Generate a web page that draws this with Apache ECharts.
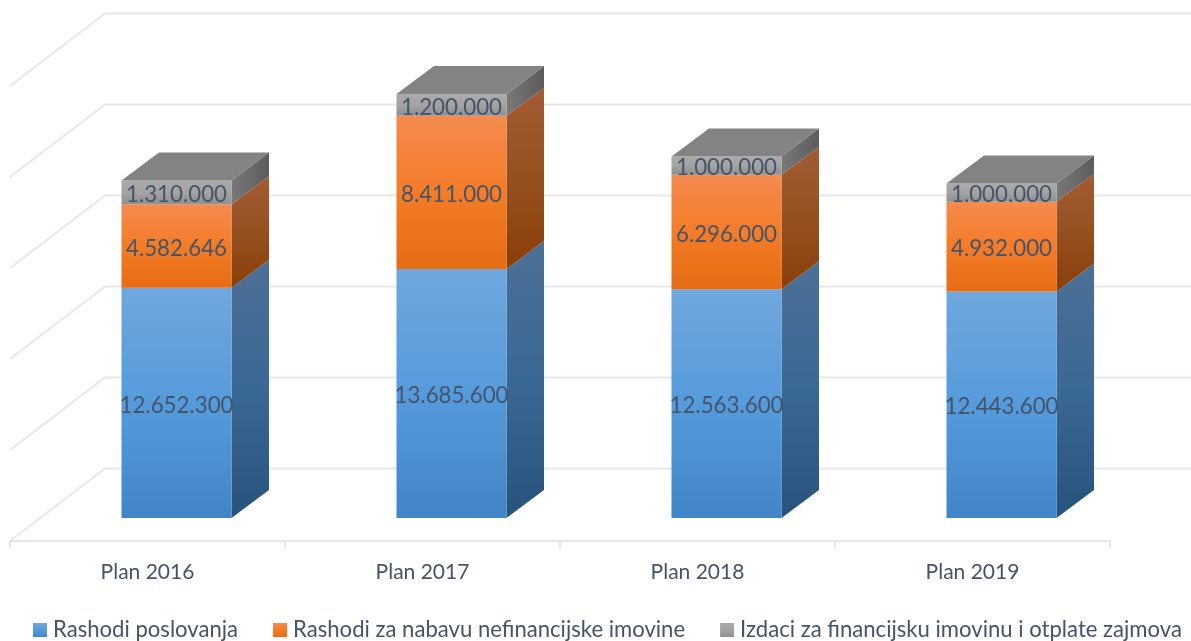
<!DOCTYPE html>
<html><head><meta charset="utf-8">
<style>html,body{margin:0;padding:0;background:#fff}#c{width:1191px;height:641px}</style>
<script src="https://cdn.jsdelivr.net/npm/echarts@6/dist/echarts.min.js"></script>
</head><body><div id="c"></div>
<script>
const categories = ['Plan 2016','Plan 2017','Plan 2018','Plan 2019'];
const rashodiPoslovanja = [12652300,13685600,12563600,12443600];
const rashodiNefinancijske = [4582646,8411000,6296000,4932000];
const izdaciFinancijske = [1310000,1200000,1000000,1000000];
const wallTicks = [0,5000000,10000000,15000000,20000000,25000000];
const seriesNames = ['Rashodi poslovanja','Rashodi za nabavu nefinancijske imovine','Izdaci za financijsku imovinu i otplate zajmova'];

const TXT='#44546A', FONT='Lato', GRIDC='#e4e8ee';
const DX=37.5, DY=28, SHIFT=29, WALL_DX=95, WALL_BACK=49.5, WALL_FRONT=23;
const lin=(x1,y1,x2,y2,stops)=>new echarts.graphic.LinearGradient(x1,y1,x2,y2,stops.map((c,i)=>({offset:stops.length>1?i/(stops.length-1):0,color:c})));
const fronts=[
  lin(0,0,0,1,['#70a7de','#559bdb','#4285c7']),
  lin(0,0,0,1,['#f48b50','#f47c28','#e66c14']),
  lin(0,0,0,1,['#ababab','#a3a3a3','#8f8f8f'])
];
const sides=[
  lin(0,0,0,1,['#4c7096','#3a6894','#27527c']),
  lin(0,0,0,1,['#a35c33','#96501f','#8a3e08']),
  lin(0,0,1,0,['#787878','#5c5c5c'])
];
const fmt=v=>String(v).replace(/\B(?=(\d{3})+$)/g,'.');
const stack=(level)=>categories.map((c,i)=>{
  const a=[rashodiPoslovanja[i],rashodiNefinancijske[i],izdaciFinancijske[i]];
  let base=0; for(let k=0;k<level;k++) base+=a[k];
  return [i,base,base+a[level],a[level]];
});
function barRender(level){
  return function(params,api){
    const p0=api.coord([api.value(0),api.value(1)]);
    const p1=api.coord([api.value(0),api.value(2)]);
    const w=api.size([1,0])[0]*0.4;
    const L=p0[0]+SHIFT-w/2, R=L+w, B=p0[1], T=p1[1];
    const kids=[
      {type:'polygon',shape:{points:[[R,B],[R+DX,B-DY],[R+DX,T-DY],[R,T]]},style:{fill:sides[level]}},
      {type:'rect',shape:{x:L,y:T,width:w,height:B-T},style:{fill:fronts[level]}}
    ];
    if(level===2) kids.push({type:'polygon',shape:{points:[[L,T],[L+DX,T-DY],[R+DX,T-DY],[R,T]]},style:{fill:'#838383'}});
    kids.push({type:'text',style:{text:fmt(api.value(3)),x:(L+R)/2,y:(T+B)/2+2.5,align:'center',verticalAlign:'middle',fill:TXT,font:'22.3px '+FONT}});
    return {type:'group',children:kids};
  };
}
const barSeries=seriesNames.map((n,l)=>({
  name:n,type:'custom',coordinateSystem:'cartesian2d',clip:false,z:5,
  itemStyle:{color:fronts[l]},
  renderItem:barRender(l),encode:{x:0,y:[1,2]},data:stack(l)
}));
const wall={
  type:'custom',coordinateSystem:'cartesian2d',clip:false,silent:true,z:1,
  renderItem(params,api){
    const y=api.coord([0,api.value(0)])[1];
    const x=params.coordSys.x;
    return {type:'polyline',shape:{points:[[x,y+WALL_FRONT],[x+WALL_DX,y-WALL_BACK],[x+params.coordSys.width+WALL_DX,y-WALL_BACK]]},style:{fill:null,stroke:GRIDC,lineWidth:2}};
  },
  encode:{y:0},data:wallTicks.map(v=>[v])
};
const chart=echarts.init(document.getElementById('c'),null,{renderer:'canvas'});
chart.setOption({
  animation:false,backgroundColor:'#fff',
  grid:{left:10,width:1100,top:63,height:455},
  legend:{left:33,top:619,padding:0,width:1500,itemWidth:14,itemHeight:14,itemGap:35,icon:'rect',
    textStyle:{color:TXT,fontFamily:FONT,fontSize:22.1,padding:[0,0,0,1]},
    data:seriesNames},
  xAxis:{type:'category',data:categories,offset:23,boundaryGap:true,
    axisLine:{onZero:false,lineStyle:{color:GRIDC,width:2}},
    axisTick:{show:true,length:7,lineStyle:{color:GRIDC,width:2}},
    axisLabel:{color:TXT,fontFamily:FONT,fontSize:21,margin:21},
    splitLine:{show:false}},
  yAxis:{type:'value',min:0,max:25000000,interval:5000000,show:false,splitLine:{show:false}},
  series:[wall,...barSeries]
});
</script></body></html>
